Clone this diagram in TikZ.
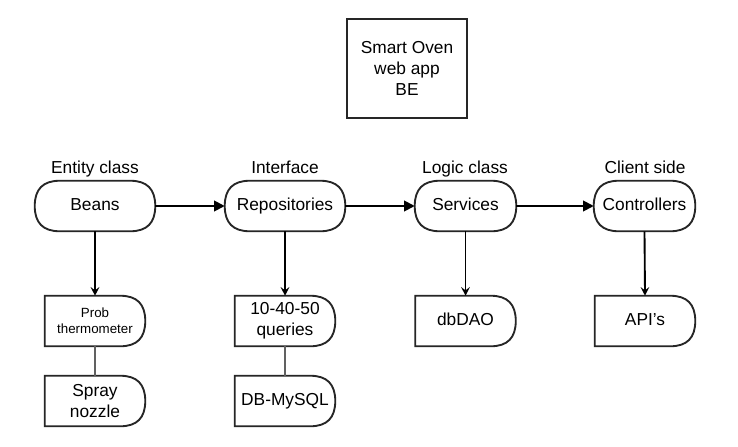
\documentclass[tikz,border=0pt]{standalone}
\usepackage{fontspec}
\setmainfont{Liberation Sans}
\usetikzlibrary{arrows.meta}
\tikzset{
  x=0.75pt, y=-0.75pt,
  outl/.style={draw=black!85, line width=1.4pt},
  holder/.style={draw=none, inner sep=0pt, align=center, font=\fontsize{13}{15.5}\selectfont},
  one/.style={text height=0.72em, text depth=0pt},
  term/.style={holder, one, minimum width=#1, minimum height=37.5pt},
  dly/.style={holder, minimum width=75pt, minimum height=37.5pt},
  lbl/.style={inner sep=0pt, one, font=\fontsize{13}{15.5}\selectfont},
  harrow/.style={draw=black, line width=1.4pt, -{Triangle[length=8pt,width=8pt]}},
  varrow/.style={draw=black, line width=1.4pt, -{Stealth[length=6.5pt,width=6.5pt,inset=2.5pt]}},
  glink/.style={draw=black!62, line width=2.2pt},
}
\newcommand\delayout[1]{%
  \draw[outl] (#1.north west) -- ([xshift=-18.75pt]#1.north east)
    .. controls ([xshift=-6.25pt]#1.north east) and ([yshift=-6.25pt]#1.north east) .. (#1.east)
    .. controls ([yshift=6.25pt]#1.south east) and ([xshift=-6.25pt]#1.south east) .. ([xshift=-18.75pt]#1.south east)
    -- (#1.south west) -- cycle;}
\newcommand\termout[1]{%
  \draw[outl] ([xshift=18.75pt]#1.north west) -- ([xshift=-18.75pt]#1.north east)
    .. controls ([xshift=-6.25pt]#1.north east) and ([yshift=-6.25pt]#1.north east) .. (#1.east)
    .. controls ([yshift=6.25pt]#1.south east) and ([xshift=-6.25pt]#1.south east) .. ([xshift=-18.75pt]#1.south east)
    -- ([xshift=18.75pt]#1.south west)
    .. controls ([xshift=6.25pt]#1.south west) and ([yshift=6.25pt]#1.south west) .. (#1.west)
    .. controls ([yshift=-6.25pt]#1.north west) and ([xshift=6.25pt]#1.north west) .. ([xshift=18.75pt]#1.north west)
    -- cycle;}
\begin{document}
\begin{tikzpicture}
\useasboundingbox[fill=white] (0,0) rectangle (738,446);
% title
\node[holder, outl, minimum width=90pt, minimum height=74.25pt] (title) at (407,68.5) {Smart Oven\\web app\\BE};
% top row
\node[term=90pt] (beans) at (95,206) {Beans};
\node[term=90pt] (repo) at (285,206) {Repositories};
\node[term=75.75pt] (serv) at (465.5,206) {Services};
\node[term=75.75pt] (ctrl) at (644.5,206) {Controllers};
\termout{beans}\termout{repo}\termout{serv}\termout{ctrl}
% labels
\node[lbl] (l1) at (95,169) {Entity class};
\node[lbl] (l2) at (285,169) {Interface};
\node[lbl] (l3) at (465,169) {Logic class};
\node[lbl] (l4) at (645,169) {Client side};
% bottom boxes
\node[dly, font=\fontsize{10}{12}\selectfont] (prob) at (95,321) {Prob\\thermometer};
\node[dly] (spray) at (95,401) {Spray\\nozzle};
\node[dly] (query) at (285,321) {10-40-50\\queries};
\node[dly, one] (db) at (285,401) {DB-MySQL};
\node[dly, one] (dao) at (465.5,321) {dbDAO};
\node[dly, one] (api) at (645,321) {API's};
\delayout{prob}\delayout{spray}\delayout{query}\delayout{db}\delayout{dao}\delayout{api}
% connectors
\draw[harrow] (beans.east) -- (repo.west);
\draw[harrow] (repo.east) -- (serv.west);
\draw[harrow] (serv.east) -- (ctrl.west);
\draw[varrow] (beans.south) -- (prob.north);
\draw[varrow] (repo.south) -- (query.north);
\draw[varrow] (serv.south) -- (dao.north);
\draw[varrow] (ctrl.south) -- (api.north);
\draw[glink] (prob.south) -- (spray.north);
\draw[glink] (query.south) -- (db.north);
\end{tikzpicture}
\end{document}
